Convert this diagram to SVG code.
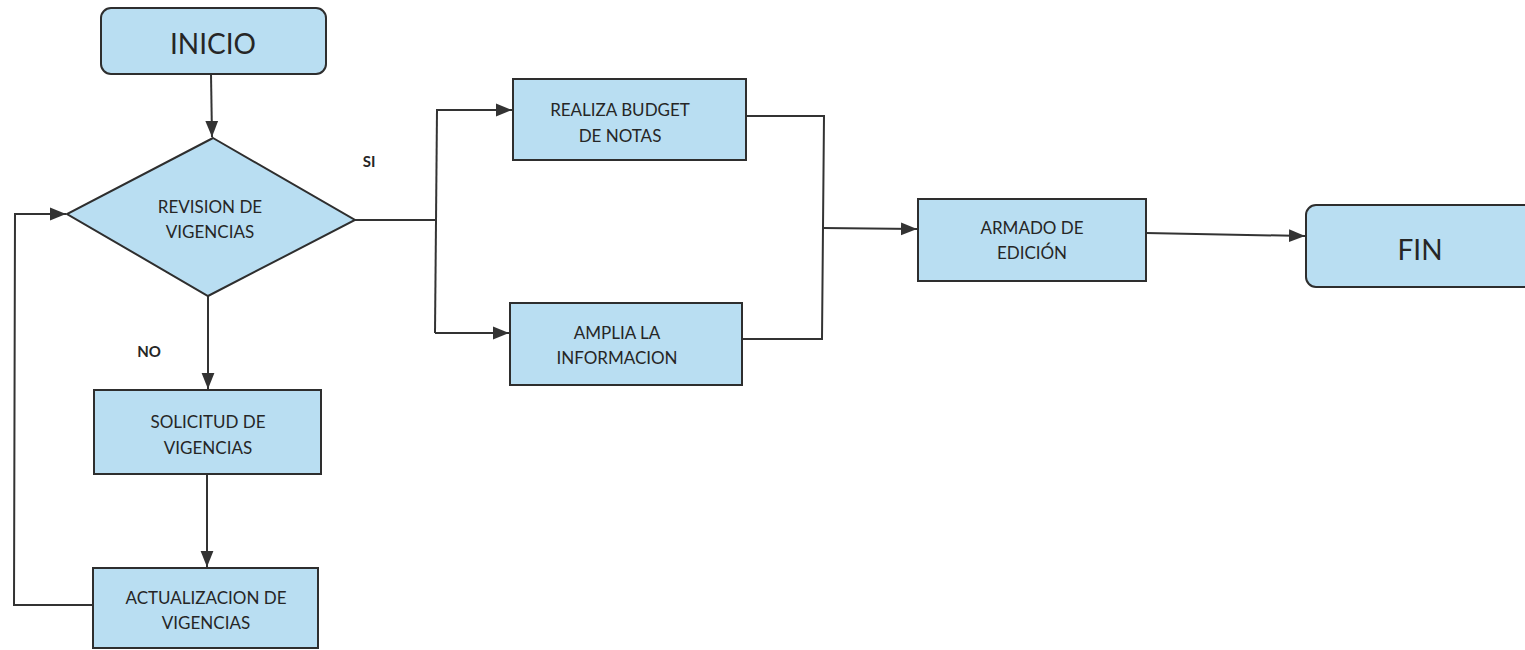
<svg xmlns="http://www.w3.org/2000/svg" width="1525" height="650" viewBox="0 0 1525 650">
<style>
.box{fill:#b9def2;stroke:#2e2e2e;stroke-width:2}
.t{font-family:Lato,"Liberation Sans",sans-serif;font-size:17px;fill:#262626;text-anchor:middle}
.big{font-family:Lato,"Liberation Sans",sans-serif;font-size:28px;fill:#262626;text-anchor:middle}
.lbl{font-family:Lato,"Liberation Sans",sans-serif;font-size:15px;font-weight:bold;fill:#262626;text-anchor:middle}
.c{fill:none;stroke:#333;stroke-width:2}
</style>
<defs>
<marker id="ah" viewBox="0 0 10 10" refX="10" refY="5" markerWidth="16" markerHeight="16" markerUnits="userSpaceOnUse" orient="auto"><path d="M0,1 L10,5 L0,9 z" fill="#333"/></marker>
</defs>
<rect width="1525" height="650" fill="#fff"/>
<g id="connectors">
<path class="c" d="M211,74 L212,137" marker-end="url(#ah)"/>
<path class="c" d="M208,296 L208,389" marker-end="url(#ah)"/>
<path class="c" d="M207,474 L207,567" marker-end="url(#ah)"/>
<path class="c" d="M93,605 L14,605 L15,214 L66,214" marker-end="url(#ah)"/>
<path class="c" d="M355,220 L435,220"/>
<path class="c" d="M437,110 L435,333"/>
<path class="c" d="M436,110 L512,110" marker-end="url(#ah)"/>
<path class="c" d="M435,333 L509,333" marker-end="url(#ah)"/>
<path class="c" d="M746,116 L824,116 L822,339 L742,339"/>
<path class="c" d="M823,228 L917,229" marker-end="url(#ah)"/>
<path class="c" d="M1146,233 L1305,236" marker-end="url(#ah)"/>
</g>
<g id="inicio"><rect class="box" x="101" y="8" width="225" height="66" rx="10"/><text class="big" x="213" y="54">INICIO</text></g>
<g id="revision"><polygon class="box" points="213,138 355,220 208,296 67,214"/><text class="t" x="210" y="213">REVISION DE</text><text class="t" x="210" y="238">VIGENCIAS</text></g>
<g id="si"><text class="lbl" x="369" y="167">SI</text></g>
<g id="no"><text class="lbl" x="149" y="357">NO</text></g>
<g id="solicitud"><rect class="box" x="94" y="390" width="227" height="84"/><text class="t" x="208" y="428">SOLICITUD DE</text><text class="t" x="208" y="454">VIGENCIAS</text></g>
<g id="actualizacion"><rect class="box" x="93" y="568" width="225" height="80"/><text class="t" x="206" y="604">ACTUALIZACION DE</text><text class="t" x="206" y="629">VIGENCIAS</text></g>
<g id="realiza"><rect class="box" x="513" y="79" width="233" height="81"/><text class="t" x="620" y="116">REALIZA BUDGET</text><text class="t" x="620" y="142">DE NOTAS</text></g>
<g id="amplia"><rect class="box" x="510" y="303" width="232" height="82"/><text class="t" x="617" y="339">AMPLIA LA</text><text class="t" x="617" y="364">INFORMACION</text></g>
<g id="armado"><rect class="box" x="918" y="199" width="228" height="82"/><text class="t" x="1032" y="234">ARMADO DE</text><text class="t" x="1032" y="259">EDICIÓN</text></g>
<g id="fin"><rect class="box" x="1306" y="205" width="230" height="82" rx="10"/><text class="big" x="1420" y="260">FIN</text></g>
</svg>
